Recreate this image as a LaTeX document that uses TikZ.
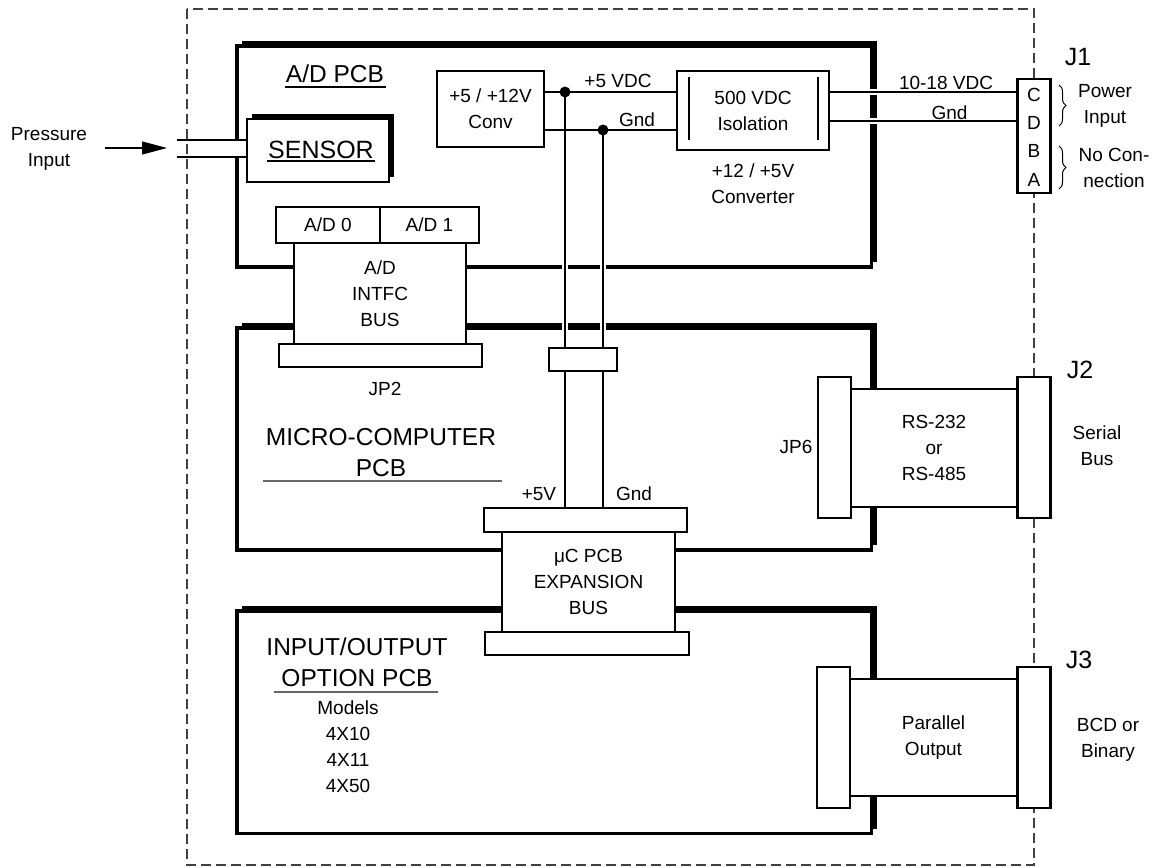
\documentclass[tikz,border=0pt]{standalone}
\usepackage{fontspec}
\setmainfont{Liberation Sans}
\usetikzlibrary{arrows.meta,decorations.pathreplacing}
\pgfdeclarelayer{boardlayer}
\pgfdeclarelayer{wirelayer}
\pgfsetlayers{boardlayer,wirelayer,main}
% #1 line width, #2 shadow offset, #3 x1, #4 y1, #5 x2, #6 y2
\newcommand\pcbboard[6]{%
  \fill (#3+#2,#4-#2) rectangle (#5+#2,#6-#2);
  \draw[line width=#1, fill=white] (#3,#4) rectangle (#5,#6);
}
\begin{document}
\begin{tikzpicture}[x=1pt,y=-1pt,
  box/.style={draw, line width=2.2pt, fill=white, inner sep=0pt, align=center, font=\fontsize{19}{26}\selectfont},
  wire/.style={line width=1.3pt},
  halo/.style={draw=white, line width=6pt},
  txt/.style={inner sep=0pt, align=center, font=\fontsize{19}{26}\selectfont},
  big/.style={inner sep=0pt, align=center, font=\fontsize{24.5}{31}\selectfont},
  jlab/.style={inner sep=0pt, font=\fontsize{25}{30}\selectfont},
  uline/.style={line width=1.1pt},
  outline/.style={dash pattern=on 10pt off 5pt, line width=1.2pt, black!75},
  bracestyle/.style={decorate, decoration={brace, amplitude=7pt}, line width=1pt},
  junction/.style={circle, fill, inner sep=0pt, minimum size=11pt}
]
\useasboundingbox (0,0) rectangle (1156,867);

% ---------- boards ----------
\begin{pgfonlayer}{boardlayer}
\draw[outline] (187,9) rectangle (1034,865);
\pcbboard{3.5pt}{5}{237}{46}{871.5}{267}
\pcbboard{3.5pt}{5}{237}{328}{871.5}{550}
\pcbboard{3.5pt}{5}{237}{611}{871.5}{833.5}
\pcbboard{2pt}{5}{247}{119}{389}{182}
\fill[white] (189,140) rectangle (246,157);
\end{pgfonlayer}

% ---------- coordinates ----------
\coordinate (d5) at (565,92);
\coordinate (dg) at (603,130);
\coordinate (g2) at (940,121);
\coordinate (sensL) at (247,150);
\coordinate (tA) at (177,140);
\coordinate (tB) at (177,157);
\coordinate (arrS) at (105,148);
\coordinate (arrE) at (167,148);

% ---------- texts and boxes ----------
\node[txt] (pin) at (49,148.5) {Pressure\\Input};
\node[big] (adpcb) at (335,73.5) {A/D PCB};
\draw[uline] (285,87) -- (386,87);
\node[inner sep=0pt, font=\fontsize{25}{30}\selectfont] (sensor) at (321,149.5) {SENSOR};
\draw[uline] (267,161) -- (375,161);

\node[box, minimum width=107pt, minimum height=76pt] (conv) at (490.5,109) {+5 / +12V\\Conv};
\node[box, minimum width=152pt, minimum height=79pt] (iso) at (753,110.5) {500 VDC\\Isolation};
\draw[line width=1.2pt] (689,77) -- (689,140);
\draw[line width=1.2pt] (818,77) -- (818,140);
\node[txt] (isolab) at (753,184) {+12 / +5V\\Converter};
\node[txt] (l5vdc) at (618,81) {+5 VDC};
\node[txt] (lgnd1) at (637,120) {Gnd};
\node[txt] (l1018) at (946,82.5) {10-18 VDC};
\node[txt] (lgnd2) at (949.5,112.5) {Gnd};

\node[box, minimum width=33pt, minimum height=114pt] (J1) at (1034,136) {};
\node[txt] (pC) at (1034,95) {C};
\node[txt] (pD) at (1034,123) {D};
\node[txt] (pB) at (1034,151) {B};
\node[txt] (pA) at (1034,180) {A};
\node[jlab] (J1lab) at (1078,57) {J1};
\draw[bracestyle] (1059,85) -- (1059,126);
\draw[bracestyle] (1059,146) -- (1059,189);
\node[txt] (pwr) at (1105,106) {Power\\Input};
\node[txt] (nocon) at (1114,168) {No Con-\\nection};

\node[box, minimum width=104pt, minimum height=36pt] (ad0) at (328,225) {A/D 0};
\node[box, minimum width=99pt, minimum height=36pt] (ad1) at (429.5,225) {A/D 1};
\node[box, minimum width=172pt, minimum height=101pt] (adbus) at (380,293.5) {A/D\\INTFC\\BUS};
\node[box, minimum width=203pt, minimum height=23pt] (jp2) at (380.5,355.5) {};
\node[txt] (jp2lab) at (385,389) {JP2};
\node[box, minimum width=68pt, minimum height=23pt] (pass) at (583,359.5) {};

\node[big] (mcpcb) at (381,452.5) {MICRO-COMPUTER\\PCB};
\draw[uline, black!60] (263,481) -- (502,481);
\node[txt] (p5lab) at (539,494) {+5V};
\node[txt] (gndlab) at (634,494) {Gnd};

\node[box, minimum width=203pt, minimum height=24pt] (exptop) at (585.5,520) {};
\node[box, minimum width=173pt, minimum height=100pt] (expbus) at (588.5,582) {μC PCB\\EXPANSION\\BUS};
\node[box, minimum width=204pt, minimum height=23pt] (expbot) at (587,643.5) {};

\node[big] (iopcb) at (357,662.5) {INPUT/OUTPUT\\OPTION PCB};
\draw[uline, black!60] (274,692) -- (438,692);
\node[txt] (models) at (348,747) {Models\\4X10\\4X11\\4X50};

\node[box, minimum width=167pt, minimum height=118pt] (ser) at (934,448) {RS-232\\or\\RS-485};
\node[box, minimum width=33pt, minimum height=141pt] (jp6) at (834.5,447.5) {};
\node[box, minimum width=33pt, minimum height=141pt] (J2) at (1034,447.5) {};
\node[txt] (jp6lab) at (796,447) {JP6};
\node[jlab] (J2lab) at (1080,370) {J2};
\node[txt] (serlab) at (1097,446) {Serial\\Bus};

\node[box, minimum width=167pt, minimum height=117pt] (par) at (933.5,737.5) {Parallel\\Output};
\node[box, minimum width=33pt, minimum height=141pt] (jp3) at (833.5,737.5) {};
\node[box, minimum width=33pt, minimum height=141pt] (J3) at (1034,737.5) {};
\node[jlab] (J3lab) at (1079,660) {J3};
\node[txt] (bcd) at (1108,740) {BCD or\\Binary};

% ---------- wires ----------
\begin{pgfonlayer}{wirelayer}
\draw[halo] (860,92) -- (884,92);
\draw[halo] (860,121) -- (884,121);
\draw[halo] (565,255) -- (565,340);
\draw[halo] (603,255) -- (603,340);
\draw[wire] (conv.east |- d5) -- (iso.west |- d5);
\draw[wire] (conv.east |- dg) -- (iso.west |- dg);
\draw[wire] (iso.east |- d5) -- (J1.west |- d5);
\draw[wire] (iso.east |- g2) -- (J1.west |- g2);
\draw[wire] (d5) -- (exptop.north -| d5);
\draw[wire] (dg) -- (exptop.north -| dg);
\draw[wire] (tA) -- (tA -| sensL);
\draw[wire] (tB) -- (tB -| sensL);
\draw[wire, -{Triangle[length=25pt,width=13pt]}] (arrS) -- (arrE);
\end{pgfonlayer}
\node[junction] (dot5) at (d5) {};
\node[junction] (dotg) at (dg) {};
\end{tikzpicture}
\end{document}
